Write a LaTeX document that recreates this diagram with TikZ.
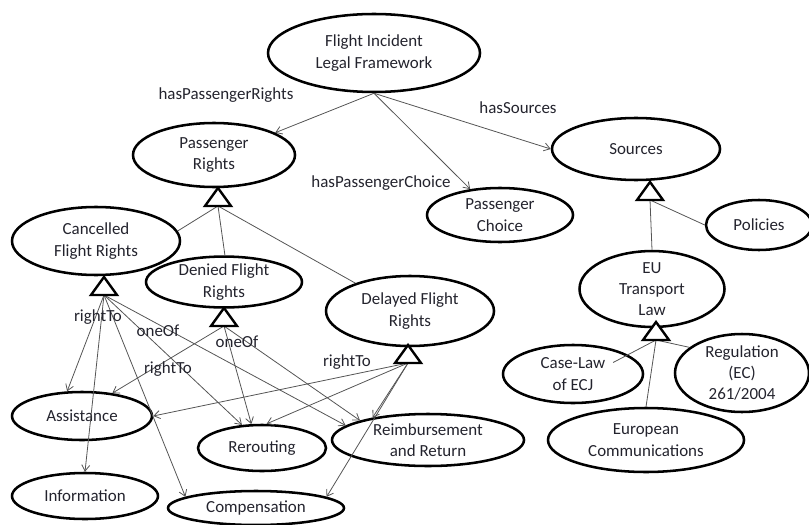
\documentclass[tikz,border=0pt]{standalone}
\usepackage{fontspec}
\setmainfont{Carlito}
\usetikzlibrary{shapes.geometric,arrows.meta,calc}
\definecolor{txt}{RGB}{35,35,45}
\definecolor{linegray}{RGB}{85,85,85}
\newcommand{\gentri}[3]{\draw[tri] (#2,#3) -- ++(-13,18) -- ++(26,0) -- cycle; \coordinate (#1) at (#2,#3+18);}
\begin{document}
\begin{tikzpicture}[x=0.75pt,y=-0.75pt,
 ent/.style={ellipse,draw=black,line width=1.9pt,inner sep=0pt,align=center,font=\fontsize{12.7}{16}\selectfont,text=txt},
 sz/.style 2 args={minimum width=#1*0.75pt,minimum height=#2*0.75pt},
 rel/.style={draw=linegray,line width=0.6pt,-{Straight Barb[length=4.5pt,width=6pt]}},
 isa/.style={draw=linegray,line width=0.6pt},
 lbl/.style={font=\fontsize{12.7}{16}\selectfont,text=txt,inner sep=1pt},
 tri/.style={draw=black,line width=1.8pt,fill=white,line join=miter}]
\useasboundingbox (0,0) rectangle (809,524);

% entities
\node[ent,sz={212}{78}] (filf) at (374,53) {Flight Incident\\Legal Framework};
\node[ent,sz={162}{64}] (pr) at (214,155) {Passenger\\Rights};
\node[ent,sz={146}{54}] (pc) at (500,215) {Passenger\\Choice};
\node[ent,sz={168}{62}] (src) at (636,149) {Sources};
\node[ent,sz={106}{50}] (pol) at (759,225) {Policies};
\node[ent,sz={168}{68}] (cfr) at (96,241) {Cancelled\\Flight Rights};
\node[ent,sz={156}{50}] (dfr) at (224,282) {Denied Flight\\Rights};
\node[ent,sz={168}{70}] (del) at (410,311) {Delayed Flight\\Rights};
\node[ent,sz={145}{62}] (eu) at (652,289) {EU\\Transport\\Law};
\node[ent,sz={140}{58}] (cl) at (573,374) {Case-Law\\of ECJ};
\node[ent,sz={134}{70}] (reg) at (742,373) {Regulation\\(EC)\\261/2004};
\node[ent,sz={196}{64}] (ec) at (646,440) {European\\Communications};
\node[ent,sz={140}{48}] (asst) at (82,416) {Assistance};
\node[ent,sz={146}{46}] (info) at (85,496) {Information};
\node[ent,sz={128}{46}] (rer) at (262,448) {Rerouting};
\node[ent,sz={192}{52}] (reim) at (428,440) {Reimbursement\\and Return};
\node[ent,sz={176}{34}] (comp) at (256,508) {Compensation};

% top relations
\draw[rel] (filf.south) -- (pr.20);
\draw[rel] (filf.south) -- (pc.139);
\draw[rel] (filf.south) -- (src.west);
\node[lbl] (l1) at (226,95) {hasPassengerRights};
\node[lbl] (l2) at (518,108) {hasSources};
\node[lbl] (l3) at (381,183) {hasPassengerChoice};

% subclass lines
\coordinate (tpr) at (218,206);
\coordinate (tsrc) at (650,200);
\coordinate (teu) at (656,340);
\coordinate (tcfr) at (104,295);
\coordinate (tdfr) at (224,326);
\coordinate (tdel) at (408,363);
\draw[isa] (tpr) -- (cfr.7);
\draw[isa] (tpr) -- (dfr.88);
\draw[isa] (tpr) -- (del.153);
\draw[isa] (tsrc) -- (pol.west);
\draw[isa] (tsrc) -- (eu.north);
\draw[isa] (teu) -- ($(cl.center)!0.68!(cl.16)$);
\draw[isa] (teu) -- (reg.154);
\draw[isa] (teu) -- (ec.north);

% rights relations
\draw[rel] (tcfr) -- (asst.121);
\draw[rel] (tcfr) -- (info.90);
\draw[rel] (tcfr) -- (comp.171);
\draw[rel] (tcfr) -- (rer.131);
\draw[rel] (tcfr) -- (reim.170);
\draw[rel] (tdfr) -- (asst.37);
\draw[rel] (tdfr) -- (rer.114);
\draw[rel] (tdfr) -- (reim.164);
\draw[rel] (tdel) -- (asst.east);
\draw[rel] (tdel) -- (rer.79);
\draw[rel] (tdel) -- (reim.158);
\draw[rel] (tdel) -- (comp.9);

\node[lbl] (l4) at (98,317) {rightTo};
\node[lbl] (l5) at (158,331) {oneOf};
\node[lbl] (l6) at (168,369) {rightTo};
\node[lbl] (l7) at (237,342) {oneOf};
\node[lbl] (l8) at (347,362) {rightTo};

% triangles
\gentri{tpr}{218}{188}
\gentri{tsrc}{650}{182}
\gentri{teu}{656}{322}
\gentri{tcfr}{104}{277}
\gentri{tdfr}{224}{308}
\gentri{tdel}{408}{345}
\end{tikzpicture}
\end{document}
